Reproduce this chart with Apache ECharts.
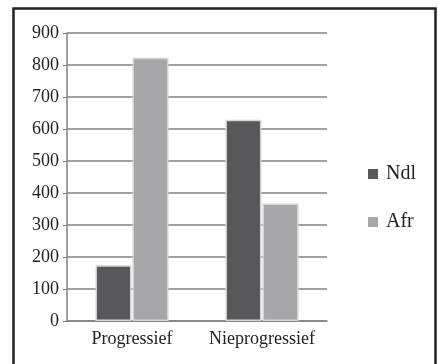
<!DOCTYPE html>
<html><head><meta charset="utf-8">
<script src="https://cdn.jsdelivr.net/npm/echarts@6/dist/echarts.min.js"></script>
<style>html,body{margin:0;padding:0;background:#fff}#c{width:438px;height:364px}</style>
</head><body><div id="c"></div>
<script>
const categories = ['Progressief', 'Nieprogressief'];
const ndl = [174, 629];
const afr = [823, 367];
const yTicks = [0, 100, 200, 300, 400, 500, 600, 700, 800, 900];

const chart = echarts.init(document.getElementById('c'), null, {renderer: 'canvas'});
const font = 'Liberation Serif';
chart.setOption({
  animation: false,
  backgroundColor: '#fff',
  graphic: [{
    type: 'rect', left: 11, top: 6,
    shape: {width: 422, height: 370},
    style: {fill: 'none', stroke: '#222', lineWidth: 2.5}
  }],
  grid: {left: 67, right: 111, top: 33, bottom: 43},
  legend: {
    orient: 'vertical', left: 363, top: 159, itemGap: 28,
    itemWidth: 10, itemHeight: 10, icon: 'rect',
    itemStyle: {borderWidth: 0},
    textStyle: {fontFamily: font, fontSize: 20, color: '#222', padding: [0,0,0,3]},
    data: ['Ndl', 'Afr']
  },
  xAxis: {
    type: 'category', data: categories,
    axisLine: {lineStyle: {color: '#808080', width: 1.5}},
    axisTick: {show: false},
    axisLabel: {fontFamily: font, fontSize: 18, color: '#222', margin: 9,
      interval: 0, hideOverlap: false}
  },
  yAxis: {
    type: 'value', min: 0, max: 900, interval: 100,
    axisLine: {show: true, lineStyle: {color: '#808080', width: 1.5}},
    axisTick: {show: true, length: 4, lineStyle: {color: '#808080'}},
    axisLabel: {fontFamily: font, fontSize: 18, color: '#222', margin: 8,
      formatter: v => yTicks.includes(v) ? String(v) : ''},
    splitLine: {lineStyle: {color: '#808080', width: 1.5}}
  },
  series: [
    {name: 'Ndl', type: 'bar', data: ndl, barWidth: 36, barGap: '3%',
     itemStyle: {color: '#58585b', borderColor: '#d4d4d4', borderWidth: 1.5}},
    {name: 'Afr', type: 'bar', data: afr, barWidth: 36,
     itemStyle: {color: '#a7a7aa', borderColor: '#d4d4d4', borderWidth: 1.5}}
  ]
});
</script></body></html>
